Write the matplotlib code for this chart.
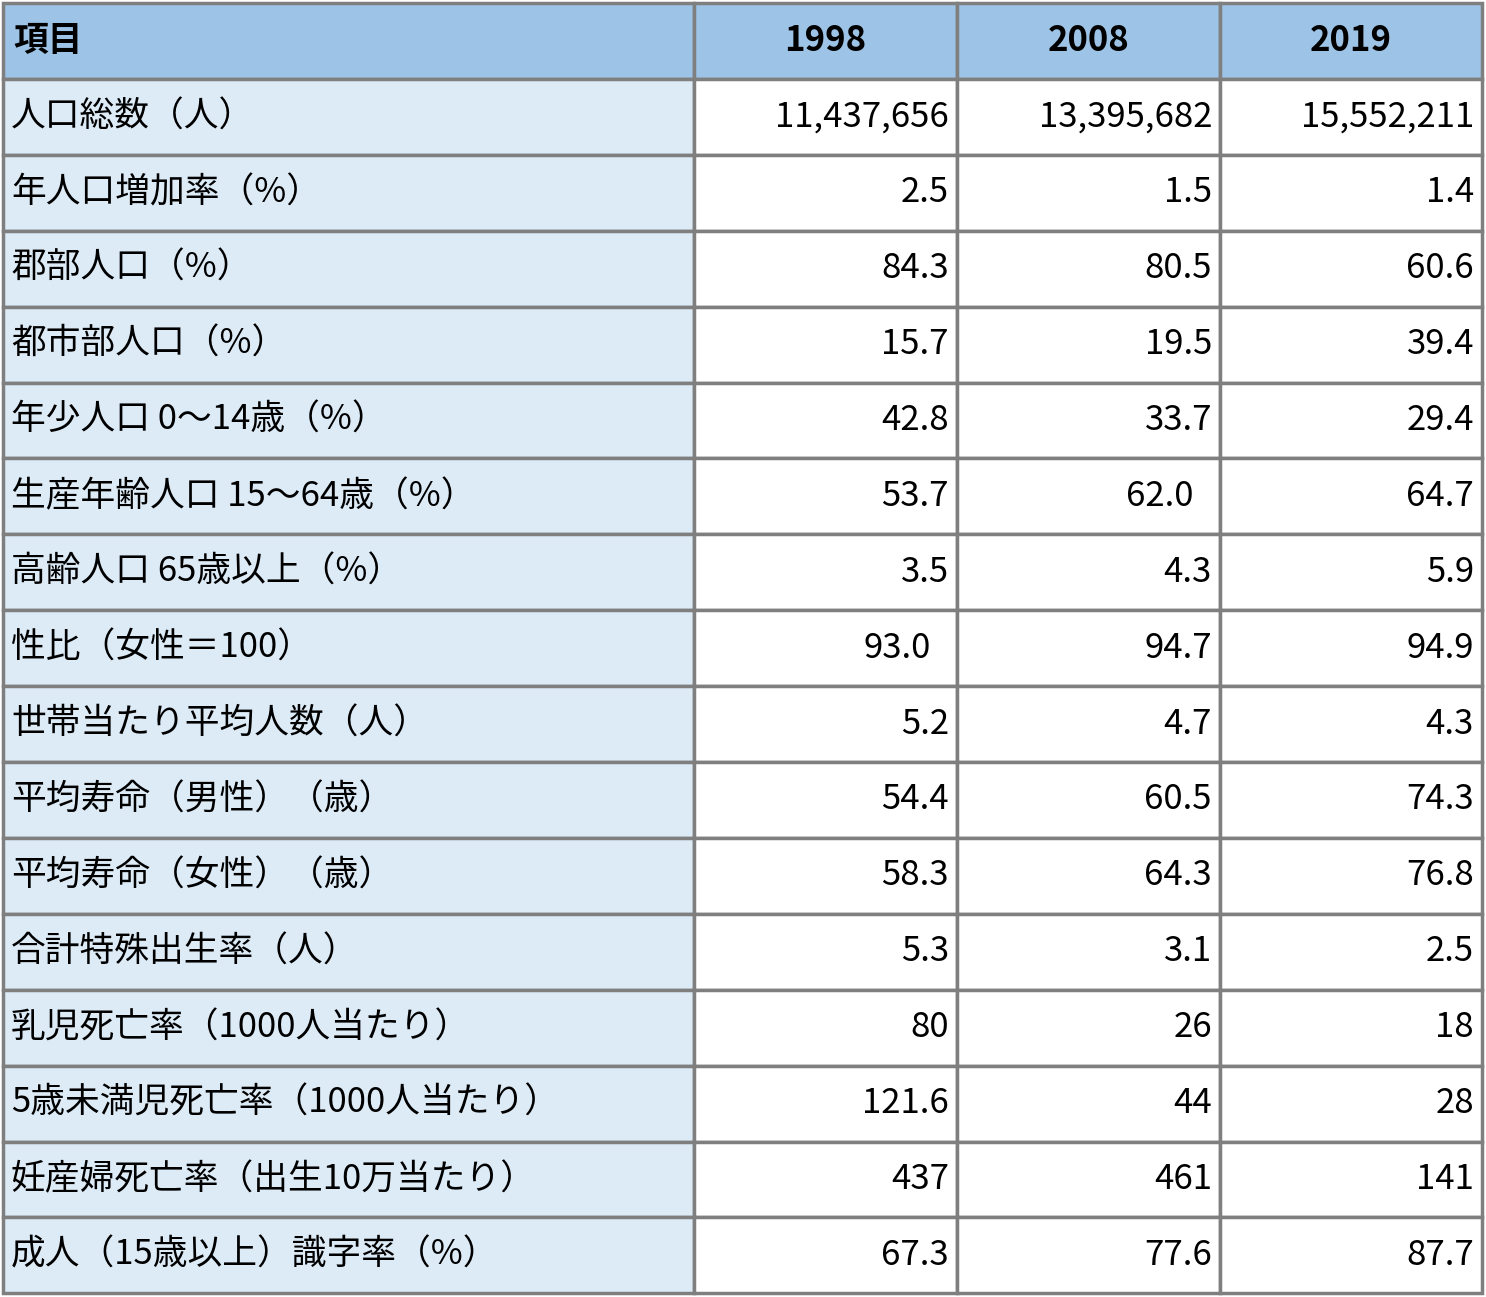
import matplotlib.pyplot as plt
from matplotlib.patches import Rectangle

plt.rcParams['font.family'] = ['Noto Sans CJK JP']

headers = ['項目', '1998', '2008', '2019']
items = ['人口総数（人）', '年人口増加率（%）', '郡部人口（%）', '都市部人口（%）',
         '年少人口 0～14歳（%）', '生産年齢人口 15～64歳（%）', '高齢人口 65歳以上（%）',
         '性比（女性＝100）', '世帯当たり平均人数（人）', '平均寿命（男性）（歳）',
         '平均寿命（女性）（歳）', '合計特殊出生率（人）', '乳児死亡率（1000人当たり）',
         '5歳未満児死亡率（1000人当たり）', '妊産婦死亡率（出生10万当たり）', '成人（15歳以上）識字率（%）']
v1998 = ['11,437,656', '2.5', '84.3', '15.7', '42.8', '53.7', '3.5', '93.0 ', '5.2',
         '54.4', '58.3', '5.3', '80', '121.6', '437', '67.3']
v2008 = ['13,395,682', '1.5', '80.5', '19.5', '33.7', '62.0 ', '4.3', '94.7', '4.7',
         '60.5', '64.3', '3.1', '26', '44', '461', '77.6']
v2019 = ['15,552,211', '1.4', '60.6', '39.4', '29.4', '64.7', '5.9', '94.9', '4.3',
         '74.3', '76.8', '2.5', '18', '28', '141', '87.7']
italic_1998 = {'121.6', '437'}

W, H = 1486, 1297
col_x = [3, 694, 957, 1220, 1482]
top, row_h = 3, 75.9

fig = plt.figure(figsize=(W / 100, H / 100), dpi=100)
ax = fig.add_axes([0, 0, 1, 1])
ax.set_xlim(0, W)
ax.set_ylim(H, 0)
ax.axis('off')

rows = [headers] + [list(r) for r in zip(items, v1998, v2008, v2019)]
for i, row in enumerate(rows):
    y0 = top + i * row_h
    for j, txt in enumerate(row):
        x0, x1 = col_x[j], col_x[j + 1]
        if i == 0:
            fc = '#9dc3e6'
        elif j == 0:
            fc = '#ddebf7'
        else:
            fc = 'white'
        ax.add_patch(Rectangle((x0, y0), x1 - x0, row_h, facecolor=fc,
                               edgecolor='#7f7f7f', lw=2.5))
        yc = y0 + row_h / 2
        if i == 0:
            if j == 0:
                ax.text(x0 + 10, yc, txt, ha='left', va='center', fontsize=25, fontweight='bold')
            else:
                ax.text((x0 + x1) / 2, yc, txt, ha='center', va='center', fontsize=25, fontweight='bold')
        elif j == 0:
            ax.text(x0 + 8, yc, txt, ha='left', va='center', fontsize=25)
        else:
            style = 'italic' if (j == 1 and txt in italic_1998) else 'normal'
            label = txt
            dx = 0
            if txt.endswith(' '):
                label = txt.strip()
                dx = 18
            ax.text(x1 - 8 - dx, yc, label, ha='right', va='center', fontsize=25, style=style)

fig.savefig('out.png', dpi=100)
